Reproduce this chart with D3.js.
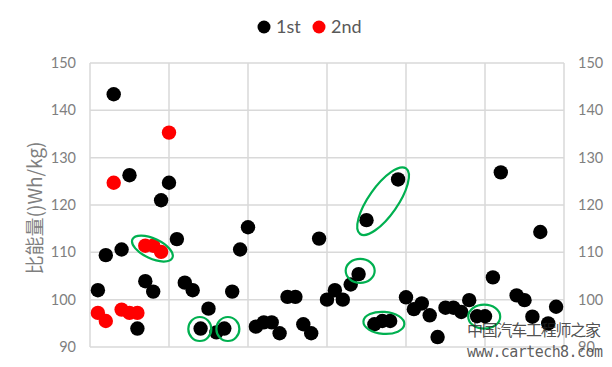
<!DOCTYPE html>
<html>
<head>
<meta charset="utf-8">
<script src="https://cdn.jsdelivr.net/npm/d3@7"></script>
<style>
  body { margin: 0; background: #fff; }
  svg text { font-family: Lato, "Open Sans", sans-serif; }
</style>
</head>
<body>
<div id="chart"></div>
<script>
// DATA
const firstX = [1, 2, 3, 4, 5, 6, 7, 8, 9, 10, 11, 12, 13, 14, 15, 16, 17, 18, 19, 20,
  21, 22, 23, 24, 25, 26, 27, 28, 29, 30, 31, 32, 33, 34, 35, 36, 37, 38, 39, 40,
  41, 42, 43, 44, 45, 46, 47, 48, 49, 50, 51, 52, 54, 55, 56, 57, 58, 59];
const firstY = [102.0, 109.4, 143.4, 110.6, 126.3, 93.9, 103.9, 101.7, 121.0, 124.7,
  112.8, 103.6, 102.0, 93.9, 98.1, 93.1, 93.9, 101.7, 110.6, 115.3,
  94.3, 95.2, 95.2, 92.9, 100.6, 100.6, 94.8, 92.9, 112.9, 100.0,
  102.0, 100.0, 103.2, 105.4, 116.8, 94.8, 95.5, 95.5, 125.4, 100.5,
  98.0, 99.2, 96.7, 92.1, 98.3, 98.3, 97.4, 99.9, 96.5, 96.5,
  104.7, 126.9, 100.9, 99.9, 96.4, 114.3, 95.0, 98.5];
const secondX = [1, 2, 3, 4, 5, 6, 7, 8, 9, 10];
const secondY = [97.2, 95.5, 124.7, 97.9, 97.2, 97.2, 111.4, 111.4, 110.1, 135.3];
const yTicks = [90, 100, 110, 120, 130, 140, 150];
const xGrid = [0, 10, 20, 30, 40, 50, 60];
const seriesNames = ["1st", "2nd"];
// green hand-drawn marks: centre in data units
const markX = [7.9, 13.9, 17.45, 37.1, 34.2, 37.2, 49.9];
const markY = [110.8, 93.8, 93.8, 120.8, 106.1, 95.1, 96.4];

const W = 612, H = 367;
const margin = { top: 63, right: 48, bottom: 20, left: 90 };

const svg = d3.select('#chart').append('svg')
    .attr('width', W)
    .attr('height', H);

const x = d3.scaleLinear().domain([0, 60]).range([margin.left, W - margin.right]);
const y = d3.scaleLinear().domain([90, 150]).range([H - margin.bottom, margin.top]);

// grid
const grid = svg.append('g').attr('stroke', '#d9d9d9').attr('stroke-width', 1.5);
grid.selectAll('line.h').data(yTicks).enter().append('line')
    .attr('x1', x(0)).attr('x2', x(60))
    .attr('y1', d => y(d)).attr('y2', d => y(d));
grid.selectAll('line.v').data(xGrid).enter().append('line')
    .attr('y1', y(90)).attr('y2', y(150))
    .attr('x1', d => x(d)).attr('x2', d => x(d));

// axes (labels only, lines come from grid)
const leftAxis = svg.append('g')
    .attr('transform', `translate(${x(0)},0)`)
    .call(d3.axisLeft(y).tickValues(yTicks).tickSize(0).tickPadding(14));
const rightAxis = svg.append('g')
    .attr('transform', `translate(${x(60)},0)`)
    .call(d3.axisRight(y).tickValues(yTicks).tickSize(0).tickPadding(14));
[leftAxis, rightAxis].forEach(a => {
    a.select('.domain').remove();
    a.selectAll('text')
        .style('font-family', 'Lato, sans-serif')
        .style('font-size', '14.5px')
        .attr('fill', '#7f7f7f');
});

// y title
svg.append('text')
    .attr('transform', `translate(42,${(y(90) + y(150)) / 2 + 3}) rotate(-90)`)
    .attr('text-anchor', 'middle')
    .style('font-size', '19px')
    .style('font-family', '"Noto Sans CJK SC", Lato, sans-serif')
    .attr('fill', '#7f7f7f')
    .text('比能量()Wh/kg)');

// points
const dots = svg.append('g');
dots.selectAll('circle.first').data(firstX).enter().append('circle')
    .attr('cx', d => x(d))
    .attr('cy', (d, i) => y(firstY[i]))
    .attr('r', 7.2)
    .attr('fill', '#000');
dots.selectAll('circle.second').data(secondX).enter().append('circle')
    .attr('cx', d => x(d))
    .attr('cy', (d, i) => y(secondY[i]))
    .attr('r', 7.2)
    .attr('fill', '#ff0000');

// annotations
const markSize = [[22, 10, 25], [11.5, 12, 0], [11.5, 12, 0], [40, 14.5, -55],
  [14.5, 12, 0], [20.5, 11, 4], [16, 12, 0]];
svg.append('g').selectAll('ellipse').data(markX).enter().append('ellipse')
    .attr('transform', (d, i) => `translate(${x(d)},${y(markY[i])}) rotate(${markSize[i][2]})`)
    .attr('rx', (d, i) => markSize[i][0])
    .attr('ry', (d, i) => markSize[i][1])
    .attr('fill', 'none')
    .attr('stroke', '#00b050')
    .attr('stroke-width', 2.2);

// legend
const legendColors = ['#000', '#ff0000'];
const legend = svg.append('g').attr('transform', 'translate(264,27)');
const item = legend.selectAll('g').data(seriesNames).enter().append('g')
    .attr('transform', (d, i) => `translate(${i * 55},0)`);
item.append('circle').attr('r', 6.5).attr('fill', (d, i) => legendColors[i]);
item.append('text')
    .attr('x', 12).attr('y', 6)
    .style('font-size', '18px')
    .attr('fill', '#595959')
    .text(d => d);

// watermark
svg.append('text')
    .attr('x', 467).attr('y', 336)
    .style('font-family', '"Noto Sans CJK SC", sans-serif')
    .style('font-size', '16px')
    .attr('fill', '#222')
    .attr('fill-opacity', 0.8)
    .attr('textLength', 134)
    .text('中国汽车工程师之家');
svg.append('text')
    .attr('x', 467).attr('y', 357)
    .style('font-family', '"DejaVu Sans Mono", monospace')
    .style('font-size', '15px')
    .attr('fill', '#333')
    .attr('fill-opacity', 0.8)
    .attr('textLength', 136)
    .text('www.cartech8.com');
</script>
</body>
</html>
